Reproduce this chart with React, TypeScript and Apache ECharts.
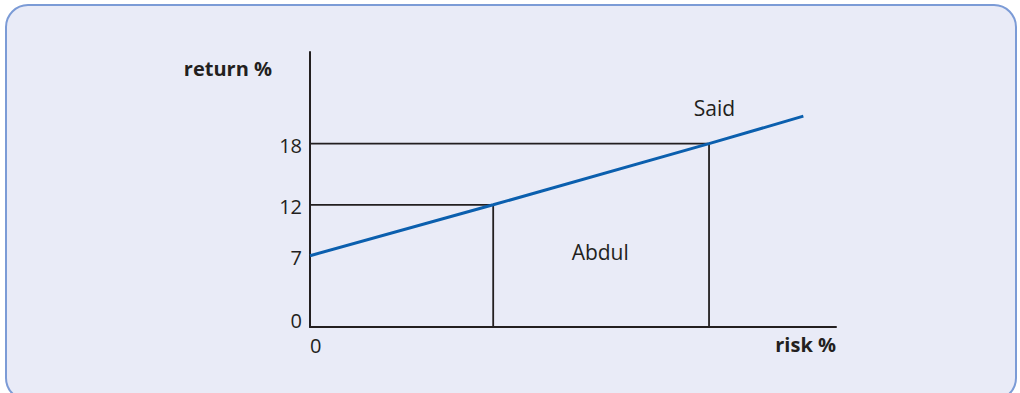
import React, { useEffect, useRef } from "react";
import * as echarts from "echarts";

// Risk / return data (risk in arbitrary units)
const investors = ["Abdul", "Said"];
const investorRisk = [10.1, 22];
const investorReturn = [12, 18];
const lineRisk = [0, 10.1, 22, 27.2];
const lineReturn = [7, 12, 18, 20.7];
const yTickValues = [0, 7, 12, 18];
const xTickValues = [0];
const labelPositions: [number, number][] = [
  [16, 7.36],
  [22.3, 21.5],
];

const INK = "#231f20";
const BLUE = "#0b5fae";
const FONT = "Open Sans";

export default function App() {
  const ref = useRef<HTMLDivElement>(null);
  useEffect(() => {
    if (!ref.current) return;
    const chart = echarts.init(ref.current, undefined, { renderer: "svg" });
    const guides = investors.map((name, i) => ({
      type: "line",
      name: name + " guide",
      data: [
        [0, investorReturn[i]],
        [investorRisk[i], investorReturn[i]],
        [investorRisk[i], 0],
      ],
      symbol: "none",
      lineStyle: { color: INK, width: 1.8 },
      z: 2,
    }));
    chart.setOption({
      animation: false,
      backgroundColor: "#ffffff",
      textStyle: { fontFamily: FONT },
      graphic: [
        {
          type: "rect",
          shape: { x: 6, y: 5, width: 1010, height: 395, r: 22 },
          style: { fill: "#e9ebf7", stroke: "#7b9bd6", lineWidth: 2 },
          z: -10,
          silent: true,
        },
      ],
      grid: { left: 310, right: 184, top: 52, bottom: 66, outerBoundsMode: "none" },
      xAxis: {
        type: "value",
        min: 0,
        max: 29,
        name: "risk %",
        nameLocation: "end",
        nameGap: 0,
        nameTextStyle: {
          fontFamily: FONT,
          fontSize: 20,
          fontWeight: "bold",
          color: INK,
          align: "right",
          verticalAlign: "top",
          padding: [7, 0, 0, 0],
        },
        axisLine: { show: true, lineStyle: { color: INK, width: 2 } },
        axisTick: { show: false },
        splitLine: { show: false },
        axisLabel: {
          customValues: xTickValues,
          fontFamily: FONT,
          fontSize: 20,
          color: INK,
          align: "left",
          margin: 8,
        },
      },
      yAxis: {
        type: "value",
        min: 0,
        max: 27,
        name: "return %",
        nameLocation: "end",
        nameGap: -16,
        nameTextStyle: {
          fontFamily: FONT,
          fontSize: 20,
          fontWeight: "bold",
          color: INK,
          align: "right",
          verticalAlign: "middle",
          padding: [0, 38, 0, 0],
        },
        axisLine: { show: true, lineStyle: { color: INK, width: 2 } },
        axisTick: { show: false },
        splitLine: { show: false },
        axisLabel: {
          customValues: yTickValues,
          fontFamily: FONT,
          fontSize: 20,
          color: INK,
          margin: 8,
          formatter: (v: number) => (v === 0 ? "{z|0}" : "{n|" + v + "}"),
          rich: {
            z: { fontFamily: FONT, fontSize: 20, color: INK, padding: [0, 0, 13, 0] },
            n: { fontFamily: FONT, fontSize: 20, color: INK, padding: [3, 0, 0, 0] },
          },
        },
      },
      series: [
        ...guides,
        {
          type: "line",
          name: "risk-return",
          data: lineRisk.map((r, i) => [r, lineReturn[i]]),
          symbol: "none",
          lineStyle: { color: BLUE, width: 3 },
          z: 3,
        },
        {
          type: "scatter",
          name: "labels",
          symbolSize: 0,
          itemStyle: { color: INK, opacity: 1 },
          data: investors.map((n, i) => ({ name: n, value: labelPositions[i] })),
          label: {
            show: true,
            position: "inside",
            formatter: "{b}",
            fontFamily: FONT,
            fontSize: 21,
            color: INK,
            opacity: 1,
            textBorderWidth: 0,
            textBorderColor: "transparent",
            textShadowBlur: 0,
          },
          z: 4,
        },
      ],
    });
    return () => chart.dispose();
  }, []);
  return (
    <div
      ref={ref}
      style={{ position: "fixed", left: 0, top: 0, width: 1020, height: 393 }}
    />
  );
}
